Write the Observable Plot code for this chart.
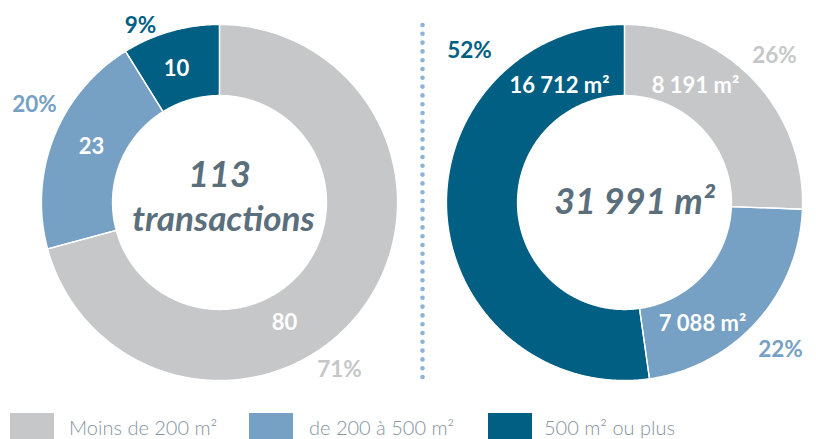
<!DOCTYPE html>
<html>
<head>
<meta charset="utf-8">
<script src="https://cdn.jsdelivr.net/npm/d3@7"></script>
<script src="https://cdn.jsdelivr.net/npm/@observablehq/plot@0.6"></script>
<style>
  html, body { margin: 0; padding: 0; background: #fff; overflow: hidden; font-family: Lato, "Open Sans", sans-serif; }
  #chart svg { display: block; }
  #legend { position: relative; height: 34px; width: 816px; }
  .sw { position: absolute; top: 8px; width: 44px; height: 44px; }
  .lab { position: absolute; top: 12px; font-size: 20px; line-height: 20px; font-weight: 300; color: #8494a0; white-space: nowrap; }
</style>
</head>
<body>
<div id="chart"></div>
<div id="legend"></div>
<script>
// ---- data ----
const categories = ["Moins de 200 m²", "de 200 à 500 m²", "500 m² ou plus"];
const colors = ["#c6c7c9", "#76a1c4", "#005f83"];
const transactions = [80, 23, 10];
const surfaces = [8191, 7088, 16712];
const sharesTransactions = ["71%", "20%", "9%"];
const sharesSurfaces = ["26%", "22%", "52%"];
const centerLabelLeft = ["113", "transactions"];
const centerLabelRight = ["31 991 m²"];

// ---- layout (pixels) ----
const W = 816, H = 405;
const donuts = [
  {cx: 219, cy: 202, r0: 107, r1: 178},
  {cx: 624, cy: 202, r0: 107, r1: 178}
];
// label anchors (center x, baseline y) per donut, per category
const valuePos = [
  [[284, 329], [91, 153], [176, 75]],
  [[695, 92], [702, 330], [559, 92]]
];
const pctPos = [
  [[339, 376], [34, 111], [140, 32]],
  [[774, 62], [780, 356], [469, 57]]
];
const legendSw = [10, 249, 488];
const legendTx = [69, 309, 544];

const fr = d3.formatLocale({decimal: ",", thousands: " ", grouping: [3], currency: ["", ""]});
const fmt = fr.format(",d");

// ---- build arcs ----
function arcPolys(values, d, id) {
  const total = d3.sum(values);
  const rows = [];
  let acc = 0;
  values.forEach((v, i) => {
    const a0 = acc / total * 2 * Math.PI;
    acc += v;
    const a1 = acc / total * 2 * Math.PI;
    const n = Math.max(2, Math.ceil((a1 - a0) / (Math.PI / 360)));
    const pts = [];
    for (let k = 0; k <= n; k++) {
      const a = a0 + (a1 - a0) * k / n;
      pts.push([d.cx + d.r1 * Math.sin(a), d.cy - d.r1 * Math.cos(a)]);
    }
    for (let k = n; k >= 0; k--) {
      const a = a0 + (a1 - a0) * k / n;
      pts.push([d.cx + d.r0 * Math.sin(a), d.cy - d.r0 * Math.cos(a)]);
    }
    pts.push(pts[0]);
    pts.forEach(p => rows.push({x: p[0], y: p[1], seg: id + "-" + i, cat: categories[i]}));
  });
  return rows;
}
const arcs = arcPolys(transactions, donuts[0], "t").concat(arcPolys(surfaces, donuts[1], "s"));

const valueLabels = [];
const pctLabels = [];
transactions.forEach((v, i) => {
  valueLabels.push({x: valuePos[0][i][0], y: valuePos[0][i][1], text: fmt(v)});
  pctLabels.push({x: pctPos[0][i][0], y: pctPos[0][i][1], text: sharesTransactions[i], cat: categories[i]});
});
surfaces.forEach((v, i) => {
  valueLabels.push({x: valuePos[1][i][0], y: valuePos[1][i][1], text: fmt(v) + " m²"});
  pctLabels.push({x: pctPos[1][i][0], y: pctPos[1][i][1], text: sharesSurfaces[i], cat: categories[i]});
});
const centerLabels = [
  {x: 219, y: 186, text: centerLabelLeft[0], size: 36},
  {x: 223, y: 230, text: centerLabelLeft[1], size: 35},
  {x: 634, y: 213, text: centerLabelRight[0], size: 36}
];

const plot = Plot.plot({
  width: W, height: H,
  margin: 0,
  x: {domain: [0, W], range: [0, W], axis: null},
  y: {domain: [0, H], range: [0, H], axis: null},
  color: {domain: categories, range: colors},
  style: {fontFamily: "Lato, sans-serif", background: "white"},
  marks: [
    Plot.line(arcs, {x: "x", y: "y", z: "seg", fill: "cat", stroke: "none"}),
    Plot.line(arcs, {x: "x", y: "y", z: "seg", stroke: "white", strokeWidth: 1.3, fill: "none"}),
    Plot.ruleX([422], {y1: 25, y2: 379, stroke: "#8fb3d0", strokeWidth: 4.6, strokeDasharray: "0 8.8", strokeLinecap: "round"}),
    Plot.text(valueLabels, {x: "x", y: "y", text: "text", fill: "white", fontSize: 22, fontWeight: 700, lineAnchor: "bottom", textAnchor: "middle"}),
    Plot.text(pctLabels, {x: "x", y: "y", text: "text", fill: "cat", fontSize: 22.5, fontWeight: 700, lineAnchor: "bottom", textAnchor: "middle"}),
    Plot.text(centerLabels, {x: "x", y: "y", text: "text", fill: "#5b6e7b", fontSize: d => d.size, fontWeight: 700, fontStyle: "italic", lineAnchor: "bottom", textAnchor: "middle"})
  ]
});
document.getElementById("chart").appendChild(plot);

// legend
const leg = document.getElementById("legend");
categories.forEach((c, i) => {
  const sw = document.createElement("div");
  sw.className = "sw";
  sw.style.left = legendSw[i] + "px";
  sw.style.background = colors[i];
  leg.appendChild(sw);
  const t = document.createElement("div");
  t.className = "lab";
  t.style.left = legendTx[i] + "px";
  t.textContent = c;
  leg.appendChild(t);
});
</script>
</body>
</html>
